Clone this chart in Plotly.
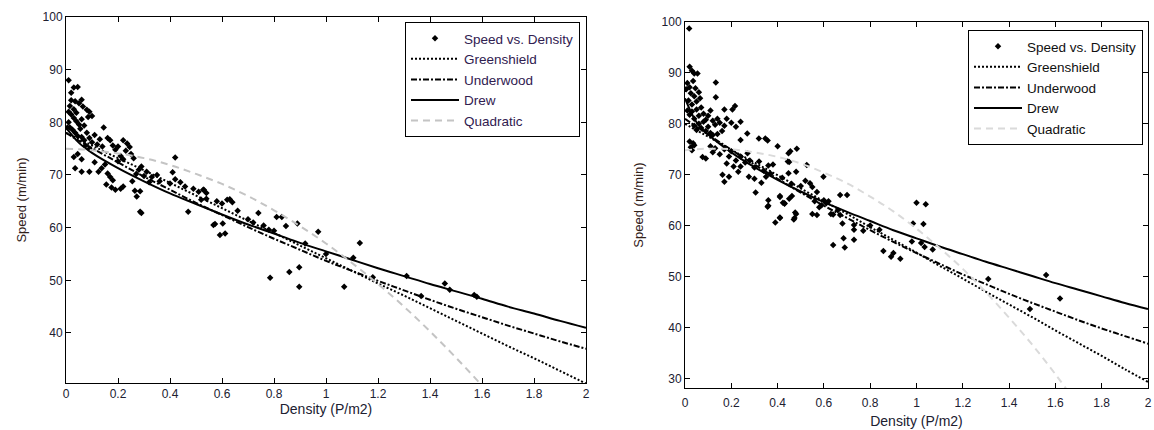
import plotly.graph_objects as go
from plotly.subplots import make_subplots

# ---------------- data ----------------
# left panel scatter
left_density = [0.01, 0.02, 0.03, 0.045, 0.02, 0.035, 0.05, 0.06, 0.015, 0.065, 0.08, 0.09, 0.1, 0.085,
                0.01, 0.02, 0.03, 0.04, 0.05, 0.015, 0.025, 0.035, 0.045, 0.055, 0.01, 0.03, 0.005, 0.04, 0.06, 0.07,
                0.145, 0.06, 0.07, 0.08, 0.09, 0.1, 0.11, 0.12, 0.13, 0.14, 0.09, 0.075, 0.16, 0.17, 0.18, 0.19, 0.2,
                0.22, 0.235, 0.245, 0.23, 0.25, 0.21, 0.26, 0.2, 0.22,
                0.03, 0.045, 0.06, 0.035, 0.06, 0.09, 0.125, 0.137, 0.11, 0.15, 0.16, 0.17, 0.18, 0.175, 0.19, 0.21,
                0.22, 0.155,
                0.255, 0.265, 0.272, 0.285, 0.285, 0.29, 0.27, 0.28, 0.3, 0.29, 0.31, 0.33, 0.35, 0.32, 0.36,
                0.42, 0.41, 0.42, 0.40, 0.44, 0.458, 0.49, 0.51, 0.53, 0.54, 0.52, 0.54, 0.47, 0.528,
                0.567, 0.573, 0.603, 0.592, 0.612, 0.58, 0.6, 0.62, 0.64, 0.63, 0.66, 0.7, 0.72, 0.74, 0.76, 0.78,
                0.8, 0.81, 0.83, 0.846, 0.89, 0.97, 0.92,
                1.13, 0.785, 0.859, 0.897, 0.897, 1.07, 1.105, 1.0, 1.18, 1.31, 1.457, 1.476, 1.366, 1.58, 1.57]
left_speed = [88.0, 85.6, 86.6, 86.7, 84.2, 84.0, 83.6, 84.3, 83.1, 83.0, 82.4, 82.0, 81.2, 81.0,
              82.0, 81.5, 80.8, 80.2, 79.6, 79.0, 78.6, 78.0, 77.4, 78.8, 80.0, 82.5, 79.0, 81.8, 80.6, 79.4,
              79.0, 77.2, 76.6, 78.0, 77.0, 76.2, 77.6, 75.8, 76.8, 75.4, 75.0, 75.6, 77.0, 76.6, 75.6, 74.8, 75.4,
              76.6, 76.0, 75.3, 74.6, 74.0, 73.6, 73.2, 72.6, 73.0,
              73.4, 74.0, 73.0, 71.3, 70.6, 70.6, 70.6, 71.3, 72.4, 72.0, 70.3, 69.6, 69.0, 67.6, 67.2, 67.4,
              67.8, 68.2,
              68.8, 67.0, 65.9, 66.9, 63.0, 62.8, 70.2, 71.0, 69.8, 71.6, 70.6, 69.6, 70.0, 68.6, 68.8,
              73.3, 70.5, 69.2, 68.4, 68.6, 67.8, 67.4, 66.8, 67.2, 66.6, 65.3, 65.5, 63.0, 67.2,
              60.5, 60.7, 60.8, 58.6, 58.9, 65.0, 64.6, 65.3, 64.8, 65.4, 63.2, 61.6, 61.0, 62.8, 60.4, 59.6,
              59.4, 62.0, 62.0, 60.3, 60.8, 59.2, 57.0,
              57.1, 50.5, 51.6, 52.5, 48.8, 48.8, 54.3, 55.0, 50.6, 50.8, 49.4, 48.2, 47.0, 46.9, 47.2]

# right panel scatter
right_density = [0.018, 0.02, 0.03, 0.04, 0.054, 0.133, 0.133, 0.01, 0.02, 0.035, 0.005, 0.025, 0.04, 0.015,
                 0.03, 0.05, 0.045, 0.06, 0.065,
                 0.01, 0.02, 0.03, 0.04, 0.05, 0.06, 0.07, 0.08, 0.09, 0.1, 0.11, 0.12, 0.13, 0.14, 0.15, 0.06,
                 0.07, 0.08, 0.09, 0.1, 0.11, 0.05, 0.04, 0.16, 0.17, 0.12, 0.14,
                 0.17, 0.205, 0.216, 0.18, 0.2, 0.22, 0.24, 0.269, 0.24, 0.319, 0.347, 0.357, 0.4, 0.483, 0.447,
                 0.02, 0.025, 0.03, 0.04, 0.035, 0.076, 0.09, 0.11, 0.12, 0.13, 0.15, 0.17, 0.19, 0.2, 0.22, 0.24,
                 0.26, 0.27, 0.18,
                 0.162, 0.17, 0.19, 0.21, 0.23, 0.24, 0.276, 0.28, 0.3, 0.32, 0.34, 0.36, 0.3, 0.33, 0.35, 0.37, 0.38,
                 0.305, 0.36, 0.357, 0.41, 0.45, 0.43, 0.45, 0.447, 0.526, 0.54, 0.598, 0.59, 0.61, 0.7,
                 0.455, 0.444, 0.42, 0.46, 0.48, 0.5, 0.52, 0.55, 0.57, 0.41, 0.423, 0.462, 0.41, 0.476, 0.473,
                 0.55, 0.56, 0.58, 0.67, 0.63, 0.64, 0.68, 0.73, 0.64, 0.685, 0.69, 0.73, 0.73, 0.77, 0.67, 0.57,
                 0.857, 0.89, 0.93, 0.9, 1.0, 1.04, 0.985, 1.03, 1.02, 0.98, 1.035, 1.07, 1.31, 1.56, 1.49, 1.62,
                 0.8, 0.84, 0.6, 0.62, 0.66, 0.36, 0.39, 0.41, 0.43, 0.47, 0.48]
right_speed = [98.7, 91.2, 90.4, 89.9, 89.9, 88.1, 85.2, 88.0, 87.2, 88.4, 86.8, 86.0, 85.4, 84.6,
               83.8, 84.4, 87.0, 86.2, 85.0,
               82.6, 81.8, 82.4, 81.0, 82.8, 81.6, 83.2, 82.0, 80.8, 81.6, 82.6, 80.6, 79.8, 81.0, 80.2, 80.0,
               79.2, 80.4, 78.6, 79.4, 78.2, 78.8, 79.6, 78.6, 79.6, 77.8, 78.0,
               82.8, 82.8, 83.5, 81.0, 80.2, 79.4, 80.4, 78.1, 76.8, 77.1, 77.1, 76.7, 75.6, 75.1, 74.2,
               76.5, 75.4, 74.8, 75.8, 76.2, 73.5, 73.2, 75.6, 74.4, 75.2, 74.0, 75.0, 73.6, 74.6, 72.8, 73.6,
               72.4, 74.2, 72.2,
               70.0, 68.6, 69.6, 71.6, 70.6, 71.6, 69.6, 72.8, 71.4, 72.6, 70.8, 71.8, 69.2, 68.4, 69.6, 70.2, 72.0,
               66.5, 65.0, 63.7, 65.6, 65.3, 64.4, 72.5, 70.3, 71.9, 68.3, 69.6, 64.0, 64.4, 66.0,
               74.6, 72.6, 69.4, 68.2, 70.6, 67.8, 68.8, 67.6, 66.6, 65.8, 64.5, 65.8, 61.6, 62.6, 61.5,
               62.3, 64.8, 63.6, 66.0, 62.3, 62.2, 60.4, 59.2, 56.2, 57.5, 55.7, 57.2, 60.1, 59.0, 62.1, 62.1,
               55.0, 53.9, 53.5, 54.6, 64.5, 64.2, 60.4, 60.3, 56.6, 56.9, 55.8, 55.3, 49.5, 50.3, 43.6, 45.7,
               60.0, 59.2, 65.0, 64.8, 63.0, 63.9, 60.6, 61.5, 64.3, 61.2, 62.3]

# fitted model curves, sampled along density
curve_density = [0, 0.05, 0.1, 0.2, 0.3, 0.4, 0.5, 0.6, 0.7, 0.8, 0.9, 1.0,
                 1.1, 1.2, 1.3, 1.4, 1.5, 1.6, 1.7, 1.8, 1.9, 2.0]

left_greenshield = [78.0, 76.8, 75.6, 73.2, 70.9, 68.5, 66.1, 63.7, 61.3, 59.0, 56.6, 54.2,
                    51.8, 49.4, 47.1, 44.7, 42.3, 39.9, 37.5, 35.2, 32.8, 30.4]
left_underwood = [78.0, 76.5, 75.1, 72.4, 69.7, 67.2, 64.7, 62.4, 60.1, 57.9, 55.8, 53.7,
                  51.8, 49.9, 48.1, 46.3, 44.6, 43.0, 41.4, 39.9, 38.4, 37.0]
left_drew = [79.0, 76.1, 74.2, 71.3, 68.8, 66.5, 64.5, 62.5, 60.6, 58.9, 57.1, 55.5,
             53.9, 52.3, 50.8, 49.3, 47.9, 46.5, 45.0, 43.7, 42.3, 41.0]
left_quadratic = [75.0, 74.9, 74.7, 74.1, 73.2, 71.9, 70.2, 68.3, 66.0, 63.3, 60.3, 57.0,
                  53.3, 49.3, 45.0, 40.3, 35.3, 30.0, 24.3, None, None, None]

right_greenshield = [80.0, 78.7, 77.5, 74.9, 72.4, 69.9, 67.3, 64.8, 62.3, 59.7, 57.2, 54.7,
                     52.1, 49.6, 47.0, 44.5, 42.0, 39.4, 36.9, 34.4, 31.8, 29.3]
right_underwood = [81.0, 79.4, 77.9, 74.9, 72.0, 69.2, 66.5, 63.9, 61.5, 59.1, 56.8, 54.6,
                   52.5, 50.4, 48.5, 46.6, 44.8, 43.1, 41.4, 39.8, 38.3, 36.8]
right_drew = [85.0, 80.3, 77.9, 74.4, 71.5, 69.0, 66.7, 64.6, 62.7, 60.9, 59.1, 57.5,
              55.9, 54.4, 52.9, 51.5, 50.1, 48.7, 47.4, 46.1, 44.8, 43.6]
right_quadratic = [74.8, 75.0, 75.1, 75.0, 74.4, 73.5, 72.2, 70.4, 68.3, 65.7, 62.8, 59.4,
                   55.6, 51.5, 46.9, 41.9, 36.6, 30.8, 24.6, None, None, None]

x_tickvals = [0, 0.2, 0.4, 0.6, 0.8, 1.0, 1.2, 1.4, 1.6, 1.8, 2.0]
x_ticktext = ["0", "0.2", "0.4", "0.6", "0.8", "1", "1.2", "1.4", "1.6", "1.8", "2"]

FONT = "Liberation Sans, Arial, sans-serif"
TXT = "#202030"

fig = make_subplots(rows=1, cols=2)

panels = [
    (1, "legend", left_density, left_speed, left_greenshield, left_underwood, left_drew, left_quadratic, "#c4c4c4"),
    (2, "legend2", right_density, right_speed, right_greenshield, right_underwood, right_drew, right_quadratic, "#dadada"),
]
for col, leg, dx, sy, g, u, d, q, qcol in panels:
    fig.add_trace(go.Scatter(x=dx, y=sy, mode="markers", name="Speed vs. Density", legend=leg,
                             marker=dict(symbol="diamond", size=5, color="black")), row=1, col=col)
    fig.add_trace(go.Scatter(x=curve_density, y=g, mode="lines", name="Greenshield", legend=leg,
                             line=dict(color="black", width=2, dash="2px,2px", shape="spline")), row=1, col=col)
    fig.add_trace(go.Scatter(x=curve_density, y=u, mode="lines", name="Underwood", legend=leg,
                             line=dict(color="black", width=2, dash="6px,2px,2px,2px", shape="spline")), row=1, col=col)
    fig.add_trace(go.Scatter(x=curve_density, y=d, mode="lines", name="Drew", legend=leg,
                             line=dict(color="black", width=2, shape="spline")), row=1, col=col)
    fig.add_trace(go.Scatter(x=curve_density, y=q, mode="lines", name="Quadratic", legend=leg,
                             line=dict(color=qcol, width=2, dash="7px,5px", shape="spline")), row=1, col=col)

axis_common = dict(showline=True, linecolor="black", linewidth=1, mirror="ticks", ticks="inside",
                   ticklen=5, tickcolor="black", showgrid=False, zeroline=False, automargin=False,
                   tickfont=dict(family=FONT, size=12, color=TXT))

fig.update_xaxes(axis_common)
fig.update_yaxes(axis_common)

fig.update_xaxes(range=[0, 2], tickvals=x_tickvals, ticktext=x_ticktext)
fig.update_yaxes(dtick=10)

xtitle_font = dict(family=FONT, size=14, color=TXT)
ytitle_font = dict(family=FONT, size=13, color="#302018")

fig.update_xaxes(domain=[66 / 1154, 586 / 1154],
                 title=dict(text="Density (P/m2)", font=xtitle_font, standoff=1), row=1, col=1)
fig.update_xaxes(domain=[685 / 1154, 1148 / 1154], ticklabelstandoff=4,
                 title=dict(text="Density (P/m2)", font=xtitle_font, standoff=6), row=1, col=2)
fig.update_yaxes(domain=[47 / 430, 413 / 430], range=[30.5, 100],
                 title=dict(text="Speed (m/min)", font=ytitle_font, standoff=13), row=1, col=1)
fig.update_yaxes(domain=[42 / 430, 408 / 430], range=[28.1, 100],
                 title=dict(text="Speed (m/min)", font=ytitle_font, standoff=15), row=1, col=2)

legend_common = dict(bgcolor="white", bordercolor="black", borderwidth=1, itemwidth=48,
                     xanchor="right", yanchor="top", tracegroupgap=0)

fig.update_layout(
    width=1154, height=430,
    margin=dict(l=0, r=0, t=0, b=0),
    paper_bgcolor="white", plot_bgcolor="white",
    showlegend=True,
    legend=dict(legend_common, x=580 / 1154, y=1 - 22 / 430,
                font=dict(family=FONT, size=13.5, color="#302050")),
    legend2=dict(legend_common, x=1143 / 1154, y=1 - 30 / 430,
                 font=dict(family=FONT, size=13.5, color="#101010")),
)

fig.write_html("out.html", config={"displayModeBar": False},
               post_script="document.body.style.margin='0';document.body.style.overflow='hidden';")
